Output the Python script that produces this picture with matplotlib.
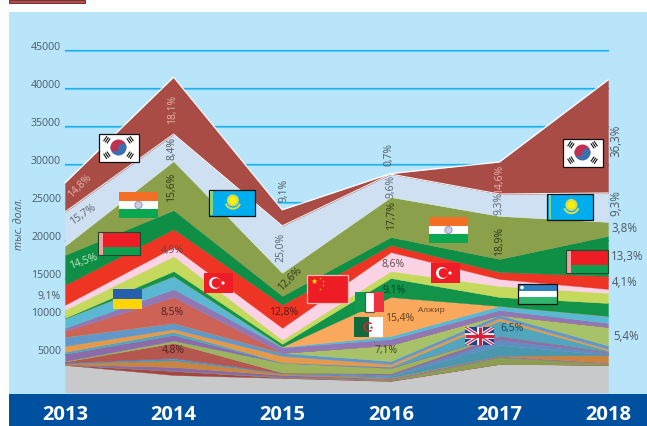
import numpy as np
import matplotlib
matplotlib.use('agg')
import matplotlib.pyplot as plt
from matplotlib.patches import Rectangle, Circle, Wedge

years = [2013, 2014, 2015, 2016, 2017, 2018]
y_ticks = [5000, 10000, 15000, 20000, 25000, 30000, 35000, 40000, 45000]

# stacked from the bottom up, thousand USD
s01 = [3620, 2300, 1910, 1510, 3750, 3620]
s02 = [30, 530, 70, 70, 0, 40]
s03 = [30, 30, 70, 130, 920, 160]
s04 = [40, 500, 260, 130, 130, 90]
s05 = [110, 860, 200, 130, 30, 1030]
s06 = [40, 220, 40, 200, 1420, 0]
s07 = [30, 70, 30, 130, 660, 260]
s08 = [30, 40, 30, 200, 530, 130]
s09 = [140, 1970, 10, 0, 0, 0]
s10 = [70, 300, 1280, 720, 0, 0]
s11 = [950, 750, 0, 130, 0, 70]
s12 = [260, 390, 50, 70, 2010, 130]
s13 = [790, 390, 870, 330, 360, 200]
s14 = [1180, 790, 390, 390, 390, 460]
s15 = [0, 0, 0, 2110, 0, 2430]
s16 = [790, 3420, 0, 0, 0, 0]
s17 = [390, 1050, 720, 790, 660, 530]
s18 = [1250, 1710, 70, 390, 530, 920]
s19 = [0, 0, 30, 5130, 0, 0]
s20 = [70, 660, 370, 2500, 1180, 1710]
s21 = [1050, 1970, 530, 920, 1450, 1320]
s22 = [660, 1180, 1580, 2500, 920, 530]
s23 = [2630, 2370, 3030, 920, 920, 1710]
s24 = [3950, 2500, 1180, 1050, 1710, 5260]
s25 = [1180, 6450, 3030, 5260, 5660, 1840]
s26 = [4470, 3550, 6180, 3030, 2890, 3820]
s27 = [3820, 7500, 2110, 70, 4210, 14870]
series = [s01, s02, s03, s04, s05, s06, s07, s08, s09, s10, s11, s12, s13, s14,
          s15, s16, s17, s18, s19, s20, s21, s22, s23, s24, s25, s26, s27]
colors = ['#c8c9cb', '#a5453f', '#8c9e52', '#8a6aa5', '#c9843f', '#4a97ae', '#5e8fc0',
          '#8a6fa8', '#b5574f', '#9db35e', '#8b6ca8', '#52a5bd', '#e59a4b', '#6197c9',
          '#a8c26a', '#cd6257', '#9178b5', '#5ab8d2', '#faa85c', '#12934a', '#c5da5c',
          '#fbd3e5', '#ee3524', '#0f8f45', '#8ba04a', '#cfe0f2', '#a84c45']

# text, x px, y px, rotation, colour, size
labels = [
    ('14,8%', 80, 186, 45, '#e3b4ab', 7.5), ('15,7%', 83, 215, 35, '#5b6670', 7.5),
    ('18,1%', 172.5, 109, 90, '#e3b4ab', 7.5), ('8,4%', 172.5, 148, 90, '#4f5a60', 7.5),
    ('15,6%', 171.5, 187.5, 90, '#30381c', 7.5), ('9,1%', 283.5, 190.5, 90, '#4f5a60', 7.5),
    ('25,0%', 281, 247, 90, '#5b6670', 7.5), ('12,6%', 290, 278.7, 45, '#30381c', 7.5),
    ('14,5%', 83.3, 262, 20, '#c6e6c8', 7.5), ('9,1%', 49, 297, 0, '#4f5a60', 7.5),
    ('4,9%', 172.3, 250.7, 0, '#5d4a55', 7.5), ('8,5%', 172, 313, 0, '#4f2320', 7.5),
    ('4,8%', 173, 350.7, 0, '#4f2320', 7.5), ('12,8%', 283.7, 313, 0, '#5a1a12', 7.5),
    ('0,7%', 389, 155, 90, '#4f5a60', 7.5), ('9,6%', 391, 186, 90, '#5b6670', 7.5),
    ('17,7%', 392, 216, 90, '#30381c', 7.5), ('8,6%', 392.7, 265, 0, '#5d4a55', 7.5),
    ('9,1%', 394, 290.3, 0, '#0c3f20', 7.5), ('15,4%', 399.3, 318, 0, '#5e4020', 7.5),
    ('Алжир', 431.3, 310.7, 0, '#5e4020', 6), ('7,1%', 385.7, 351, 0, '#3f4a20', 7.5),
    ('6,5%', 511.7, 329, 0, '#1f4a55', 7.5), ('14,6%', 499.3, 179, 90, '#e3b4ab', 7.5),
    ('9,3%', 499.3, 203, 90, '#5b6670', 7.5), ('18,9%', 499.3, 242, 90, '#30381c', 7.5),
    ('36,3%', 616, 140.7, 90, '#4f5a60', 8.3), ('9,3%', 616, 203, 90, '#4f5a60', 8.3),
    ('3,8%', 624, 228.7, 0, '#4f5a60', 8.3), ('13,3%', 627.7, 256.3, 0, '#4f5a60', 8.3),
    ('4,1%', 624.3, 282.3, 0, '#4f5a60', 8.3), ('5,4%', 625.7, 336.7, 0, '#4f5a60', 8.3),
]


def korea(ax, x, y):
    w, h = 40, 28
    ax.add_patch(Rectangle((x, y), w, h, fc='white', ec='#111111', lw=0.9))
    cx, cy = x + w / 2, y + h / 2
    ax.add_patch(Wedge((cx, cy), 8, 180, 360, fc='#c2304f', lw=0))
    ax.add_patch(Wedge((cx, cy), 8, 0, 180, fc='#3a6fb0', lw=0))
    ax.add_patch(Circle((cx - 4, cy), 4, fc='#c2304f', lw=0))
    ax.add_patch(Circle((cx + 4, cy), 4, fc='#3a6fb0', lw=0))
    for sx, sy in [(-1, -1), (1, -1), (-1, 1), (1, 1)]:
        dx, dy = sx * 0.83, sy * 0.55
        for k in (12, 14, 16):
            px, py = cx + dx * k, cy + dy * k
            ax.plot([px - dy * 3, px + dy * 3], [py + dx * 3, py - dx * 3], color='#111111', lw=0.8, solid_capstyle='butt')


def india(ax, x, y):
    w, h = 39, 26
    ax.add_patch(Rectangle((x, y), w, h / 3, fc='#f46f25', lw=0))
    ax.add_patch(Rectangle((x, y + h / 3), w, h / 3, fc='white', lw=0))
    ax.add_patch(Rectangle((x, y + 2 * h / 3), w, h / 3, fc='#0aa650', lw=0))
    ax.add_patch(Circle((x + w / 2, y + h / 2), 3.6, fc='#c9cbe6', ec='#8a8cc0', lw=0.6))


def kazakhstan(ax, x, y):
    w, h = 46, 26
    ax.add_patch(Rectangle((x, y), w, h, fc='#00aeef', ec='#111111', lw=0.9))
    ax.add_patch(Rectangle((x + 1.5, y + 1), 2.5, h - 2, fc='#8ecf7a', lw=0))
    ax.add_patch(Wedge((x + w * 0.53, y + h * 0.45), 8.5, 20, 160, width=2, fc='#d9dc50', lw=0))
    ax.add_patch(Circle((x + w * 0.53, y + h * 0.42), 6, fc='#d9dc50', lw=0))
    ax.add_patch(Circle((x + w * 0.53, y + h * 0.42), 3.6, fc='#fff200', lw=0))


def belarus(ax, x, y):
    w, h = 42, 23
    ax.add_patch(Rectangle((x, y), w, h * 0.67, fc='#ee1c25', lw=0))
    ax.add_patch(Rectangle((x, y + h * 0.67), w, h * 0.33, fc='#0fa04f', lw=0))
    ax.add_patch(Rectangle((x, y), 5, h, fc='#f0a0a0', lw=0))
    ax.add_patch(Rectangle((x, y), w, h, fc='none', ec='#1a4a30', lw=0.8))


def ukraine(ax, x, y):
    ax.add_patch(Rectangle((x, y), 29, 10, fc='#265fb0', lw=0))
    ax.add_patch(Rectangle((x, y + 10), 29, 10, fc='#ffd500', lw=0))


def turkey(ax, x, y):
    w, h = 29, 20
    ax.add_patch(Rectangle((x, y), w, h, fc='#ee1c25', lw=0))
    ax.add_patch(Circle((x + 11, y + 10), 6, fc='white', lw=0))
    ax.add_patch(Circle((x + 12.5, y + 10), 4.8, fc='#ee1c25', lw=0))
    ax.add_patch(Circle((x + 19, y + 10), 1.6, fc='white', lw=0))


def china(ax, x, y):
    w, h = 41, 27.7
    ax.add_patch(Rectangle((x, y), w, h, fc='#ee1c25', ec='#f6b7b0', lw=0.9))
    ax.scatter([x + 7], [y + 6], s=22, marker='*', color='#ffe600', lw=0, zorder=5)
    ax.scatter([x + 13, x + 16, x + 16, x + 13], [y + 3, y + 6, y + 10, y + 14], s=3, marker='*', color='#ffe600', lw=0, zorder=5)


def italy(ax, x, y):
    w, h = 29, 20
    ax.add_patch(Rectangle((x, y), w / 3, h, fc='#0f9a50', lw=0))
    ax.add_patch(Rectangle((x + w / 3, y), w / 3, h, fc='white', ec='#555555', lw=0.9))
    ax.add_patch(Rectangle((x + 2 * w / 3, y), w / 3, h, fc='#ee3340', lw=0))


def algeria(ax, x, y):
    w, h = 29, 20
    ax.add_patch(Rectangle((x, y), w / 2, h, fc='#116a3c', lw=0))
    ax.add_patch(Rectangle((x + w / 2, y), w / 2, h, fc='white', lw=0))
    ax.add_patch(Wedge((x + w / 2, y + h / 2), 5, 45, 315, width=1.5, fc='#d8203a', lw=0))
    ax.scatter([x + w / 2 + 2.5], [y + h / 2], s=8, marker='*', color='#d8203a', lw=0, zorder=5)


def uzbekistan(ax, x, y):
    w, h = 39, 20
    ax.add_patch(Rectangle((x, y), w, h * 0.36, fc='#2f7fc0', lw=0))
    ax.add_patch(Rectangle((x, y + h * 0.36), w, h * 0.3, fc='white', lw=0))
    ax.add_patch(Rectangle((x, y + h * 0.66), w, h * 0.34, fc='#2fb56e', lw=0))
    ax.add_patch(Circle((x + 4, y + 3.5), 1.8, fc='white', lw=0))
    ax.add_patch(Rectangle((x, y), w, h, fc='none', ec='#111111', lw=0.9))


def britain(ax, x, y):
    w, h = 29, 18
    box = Rectangle((x, y), w, h, fc='#2b3f8f', lw=0)
    ax.add_patch(box)
    for color, lw1, lw2 in [('white', 2.4, 4), ('#d8203a', 0.9, 2.2)]:
        for xs, ys in [([x, x + w], [y, y + h]), ([x, x + w], [y + h, y])]:
            line, = ax.plot(xs, ys, color=color, lw=lw1, solid_capstyle='butt')
            line.set_clip_path(box)
        ax.plot([x + w / 2, x + w / 2], [y, y + h], color=color, lw=lw2, solid_capstyle='butt')
        ax.plot([x, x + w], [y + h / 2, y + h / 2], color=color, lw=lw2, solid_capstyle='butt')


plt.rcParams['font.family'] = ['Open Sans', 'DejaVu Sans']
fig = plt.figure(figsize=(6.47, 4.26), dpi=100, facecolor='white')
W, H = 647, 426

fig.add_artist(Rectangle((9 / W, 0), (W - 9) / W, (H - 12) / H, transform=fig.transFigure, fc='#b9e5fa', lw=0, zorder=-2))
fig.add_artist(Rectangle((9 / W, 0), (W - 9) / W, (H - 394) / H, transform=fig.transFigure, fc='#0050a0', lw=0, zorder=-1))
fig.add_artist(Rectangle((9 / W, (H - 3) / H), 76 / W, 3 / H, transform=fig.transFigure, fc='#e03a3e', ec='#444444', lw=0.7, zorder=-1))

ax = fig.add_axes([65 / W, (H - 392.5) / H, 543 / W, 342 / H])
ax.patch.set_alpha(0)
ax.set_xlim(years[0], years[-1])
ax.set_ylim(0, 45000)
ax.axis('off')

for t in y_ticks:
    ax.plot(years, [t - 55] * 6, color='#62c8f2', lw=0.8, zorder=1, clip_on=False)
    ax.plot(years, [t + 30] * 6, color='#1cb3ec', lw=0.9, zorder=1, clip_on=False)

ax.stackplot(years, series, colors=colors, lw=0.25, edgecolor='face', zorder=2)
tops = np.cumsum(series, axis=0)
ax.plot(years, tops[-1], color='white', lw=0.9, zorder=3, clip_on=False)
ax.plot(years, tops[-2], color='white', lw=0.7, zorder=3, clip_on=False)
ax.plot(years, tops[-3], color='#dbe7d5', lw=0.4, zorder=3)

# overlay in picture pixels for flags and captions
ov = fig.add_axes([0, 0, 1, 1])
ov.patch.set_alpha(0)
ov.set_xlim(0, W)
ov.set_ylim(H, 0)
ov.axis('off')

korea(ov, 98.5, 133.5)
korea(ov, 562.5, 138.5)
india(ov, 119, 192)
india(ov, 429, 217)
kazakhstan(ov, 208.5, 189.5)
kazakhstan(ov, 547, 194)
belarus(ov, 98, 232)
belarus(ov, 565.5, 250)
ukraine(ov, 113, 289)
turkey(ov, 204, 273)
turkey(ov, 431, 263)
china(ov, 307, 275)
italy(ov, 355, 292)
algeria(ov, 354, 317)
uzbekistan(ov, 518, 284)
britain(ov, 465, 327)

for t in y_ticks:
    ypx = 392.5 - t * 342 / 45000
    ov.text(61, ypx - 3.5, str(t), ha='right', va='center', fontsize=7.6, color='#4a5a66')
for text, x, y, rot, color, size in labels:
    ov.text(x, y, text, ha='center', va='center', rotation=rot, rotation_mode='anchor', fontsize=size, color=color)
ov.text(20, 224, 'тыс. долл.', ha='center', va='center', rotation=90, style='italic', fontsize=7.6, color='#4a5a66')

for i, year in enumerate(years):
    ov.text(65 + i * 108.6, 415, str(year), ha='center', va='center', color='white', fontsize=14.5, fontweight='bold')

fig.savefig('out.png', dpi=100)
plt.close()
